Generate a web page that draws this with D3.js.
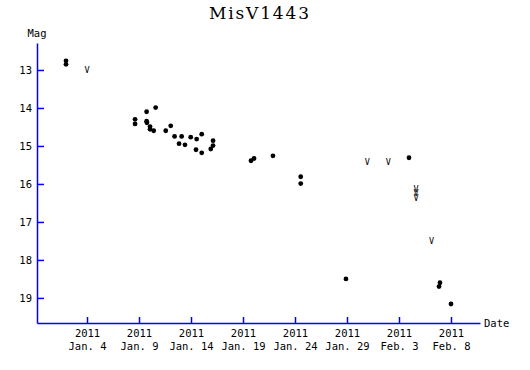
<!DOCTYPE html>
<html>
<head>
<meta charset="utf-8">
<script src="https://cdn.jsdelivr.net/npm/d3@7.9.0/dist/d3.min.js"></script>
<style>
  body { margin: 0; background: #fff; }
  svg text { fill: #000; }
</style>
</head>
<body>
<svg id="chart" width="530" height="370"></svg>
<script>
// ─── data: day of 2011 (Jan 1 = 1, Feb 1 = 32), magnitude ───
const obsDay = [1.98, 1.98, 8.62, 8.62, 9.73, 9.73, 9.76, 10.06, 10.06, 10.41, 10.60,
  11.57, 12.05, 12.42, 13.10, 12.85, 13.42, 13.97, 14.54, 15.03, 14.48, 15.03,
  16.12, 16.12, 15.90, 19.77, 20.06, 21.88, 24.55, 24.55, 28.90, 34.96,
  37.85, 37.94, 39.00];
const obsMag = [12.76, 12.85, 14.30, 14.42, 14.10, 14.35, 14.39, 14.49, 14.56, 14.60, 13.99,
  14.60, 14.47, 14.75, 14.75, 14.94, 14.97, 14.77, 14.82, 14.69, 15.10, 15.18,
  14.86, 14.99, 15.08, 15.39, 15.33, 15.26, 15.81, 15.99, 18.50, 15.31,
  18.70, 18.60, 19.16];

// fainter-than limits (drawn as "V")
const limDay = [4.00, 30.95, 32.98, 35.63, 35.63, 35.63, 37.14];
const limMag = [13.00, 15.41, 15.41, 16.12, 16.24, 16.38, 17.50];

const tickDays = [4, 9, 14, 19, 24, 29, 34, 39];
const magTicks = [13, 14, 15, 16, 17, 18, 19];

// ─── setup ───
const svg = d3.select("#chart");
const mono = "'DejaVu Sans Mono', 'Liberation Mono', monospace";
const blue = "#0000ff";

const dayToDate = d => new Date(Date.UTC(2010, 11, 31) + d * 864e5);

const x = d3.scaleUtc()
  .domain([dayToDate(-0.81), dayToDate(41.79)])
  .range([37, 480]);
const y = d3.scaleLinear()
  .domain([12.29, 19.66])
  .range([43, 323]);

// title
svg.append("text")
  .attr("x", 259).attr("y", 19)
  .attr("text-anchor", "middle")
  .attr("font-family", "'DejaVu Serif', 'Liberation Serif', serif")
  .attr("font-size", 17)
  .attr("textLength", 100)
  .text("MisV1443");

// ─── axes ───
const fmt = d3.utcFormat("%b. %-d");

const gx = svg.append("g")
  .attr("transform", `translate(0,${y.range()[1]})`)
  .call(d3.axisBottom(x)
    .tickValues(tickDays.map(dayToDate))
    .tickSizeInner(-6).tickSizeOuter(0).tickPadding(7)
    .tickFormat(""));

gx.selectAll(".tick text").each(function (d) {
  const t = d3.select(this);
  t.append("tspan").attr("x", 0).attr("dy", "0.71em").text(d.getUTCFullYear());
  t.append("tspan").attr("x", 0).attr("dy", "1.15em").text(fmt(d));
});

const gy = svg.append("g")
  .attr("transform", `translate(${x.range()[0]},0)`)
  .call(d3.axisLeft(y)
    .tickValues(magTicks)
    .tickSizeInner(-7).tickSizeOuter(0).tickPadding(5));

for (const g of [gx, gy]) {
  g.selectAll("path, line").attr("stroke", blue).attr("stroke-width", 1.5);
  g.selectAll("text")
    .attr("font-family", mono).attr("font-size", 10.5).attr("fill", "#000");
}

// axis titles
svg.append("text")
  .attr("x", 37).attr("y", 37)
  .attr("text-anchor", "middle")
  .attr("font-family", mono).attr("font-size", 10.5)
  .text("Mag");
svg.append("text")
  .attr("x", 484).attr("y", 327)
  .attr("font-family", mono).attr("font-size", 10.5)
  .text("Date");

// ─── marks ───
svg.append("g").selectAll("circle")
  .data(obsDay.map((d, i) => [d, obsMag[i]]))
  .join("circle")
  .attr("cx", d => x(dayToDate(d[0])))
  .attr("cy", d => y(d[1]))
  .attr("r", 2.4)
  .attr("fill", "#000");

svg.append("g").selectAll("text")
  .data(limDay.map((d, i) => [d, limMag[i]]))
  .join("text")
  .attr("x", d => x(dayToDate(d[0])))
  .attr("y", d => y(d[1]))
  .attr("text-anchor", "middle")
  .attr("dominant-baseline", "central")
  .attr("font-family", mono).attr("font-size", 8.5)
  .text("V");
</script>
</body>
</html>
